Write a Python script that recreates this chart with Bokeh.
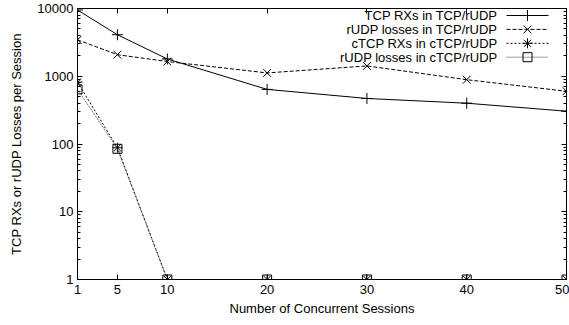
from bokeh.plotting import figure
from bokeh.models import (LinearAxis, LogAxis, FixedTicker, Range1d, ColumnDataSource,
                          LinearScale, CustomJSTickFormatter, NumeralTickFormatter)
from bokeh.core.properties import value
from bokeh.embed import file_html
from bokeh.resources import INLINE

# ---- data ----
sessions = [1, 5, 10, 20, 30, 40, 50]
tcp_rx_tcp_rudp = [9500, 4100, 1800, 640, 470, 400, 305]
rudp_loss_tcp_rudp = [3450, 2080, 1650, 1120, 1420, 890, 600]
ctcp_rx_ctcp_rudp = [820, 88, 1, 1, 1, 1, 1]
rudp_loss_ctcp_rudp = [640, 85, 1, 1, 1, 1, 1]
series_names = ["TCP RXs in TCP/rUDP", "rUDP losses in TCP/rUDP",
                "cTCP RXs in cTCP/rUDP", "rUDP losses in cTCP/rUDP"]
x_ticks = [1, 5, 10, 20, 30, 40, 50]
y_ticks = [1, 10, 100, 1000, 10000]
x_title = "Number of Concurrent Sessions"
y_title = "TCP RXs or rUDP Losses per Session"

FONT = "Liberation Sans"
FS = "13px"

W, H = 569, 325
ML, MR, MT, MB = 77, 3, 8, 46

p = figure(width=W, height=H, output_backend="svg", toolbar_location=None,
           y_axis_type="log", x_range=Range1d(1, 50), y_range=Range1d(1, 10000),
           min_border_left=ML, min_border_right=MR, min_border_top=MT,
           min_border_bottom=MB)
p.xgrid.visible = False
p.ygrid.visible = False
p.outline_line_color = "black"
p.outline_line_width = 1
p.background_fill_color = "white"
p.border_fill_color = "white"

minor_y = [m * d for d in [1, 10, 100, 1000] for m in range(2, 10)]
blank = CustomJSTickFormatter(code="return '';")

def style_axis(ax, labels=True):
    ax.axis_line_color = "black"
    ax.major_tick_in = 5
    ax.major_tick_out = 0
    ax.minor_tick_in = 3
    ax.minor_tick_out = 0
    ax.major_tick_line_color = "black"
    ax.minor_tick_line_color = "black"
    ax.major_label_text_font = FONT
    ax.major_label_text_font_size = FS
    ax.major_label_text_color = "black"
    ax.axis_label_text_font = FONT
    ax.axis_label_text_font_style = "normal"
    ax.axis_label_text_font_size = FS
    ax.axis_label_text_color = "black"
    if not labels:
        ax.formatter = blank
        ax.major_label_standoff = 0

xb = p.xaxis[0]
xb.ticker = FixedTicker(ticks=x_ticks, minor_ticks=[])
style_axis(xb)
xb.major_label_standoff = 5
xb.axis_label = x_title
xb.axis_label_standoff = 4

yl = p.yaxis[0]
yl.ticker = FixedTicker(ticks=y_ticks, minor_ticks=minor_y)
yl.formatter = NumeralTickFormatter(format="0")
style_axis(yl)
yl.major_label_standoff = 4
yl.axis_label = y_title
yl.axis_label_standoff = 10

xt = LinearAxis(ticker=FixedTicker(ticks=x_ticks, minor_ticks=[]))
style_axis(xt, labels=False)
p.add_layout(xt, "above")
yr = LogAxis(ticker=FixedTicker(ticks=y_ticks, minor_ticks=minor_y))
style_axis(yr, labels=False)
p.add_layout(yr, "right")

series = [tcp_rx_tcp_rudp, rudp_loss_tcp_rudp, ctcp_rx_ctcp_rudp, rudp_loss_ctcp_rudp]
dashes = ["solid", "4 2", "2 2", "1 1"]
markers = ["cross", "x", "asterisk", "square"]
sizes = [11, 11, 10, 9]
colors = ["black", "black", "black", "#444444"]

for ys, d, m, s, c in zip(series, dashes, markers, sizes, colors):
    src = ColumnDataSource(dict(x=sessions, y=ys))
    p.line("x", "y", source=src, line_color=c, line_width=1, line_dash=d)
    p.scatter("x", "y", source=src, marker=m, size=s, line_color="black",
              fill_color=None, line_width=1)

# ---- legend in pixel coordinates (gnuplot style: text then sample) ----
frame_left, frame_right = ML, W - MR
frame_top, frame_bottom = MT, H - MB
p.extra_x_ranges["px"] = Range1d(frame_left, frame_right)
p.extra_y_ranges["py"] = Range1d(frame_bottom, frame_top)
p.extra_x_scales["px"] = LinearScale()
p.extra_y_scales["py"] = LinearScale()
row_y = [frame_top + 7 + 13.9 * i for i in range(len(series_names))]
text_right = 497
samp_l, samp_r, samp_m = 506, 548, 527
p.text(x=[text_right] * 4, y=row_y, text=series_names, text_align="right",
       text_baseline="middle", text_font=value(FONT), text_font_size=value(FS),
       text_color="black", x_range_name="px", y_range_name="py")
for i, (d, m, s, c) in enumerate(zip(dashes, markers, sizes, colors)):
    p.line([samp_l, samp_r], [row_y[i], row_y[i]], line_color=c, line_dash=d,
           line_width=1, x_range_name="px", y_range_name="py")
    p.scatter([samp_m], [row_y[i]], marker=m, size=s, line_color="black",
              fill_color=None, x_range_name="px", y_range_name="py")

open("out.html", "w").write(file_html(p, INLINE))
